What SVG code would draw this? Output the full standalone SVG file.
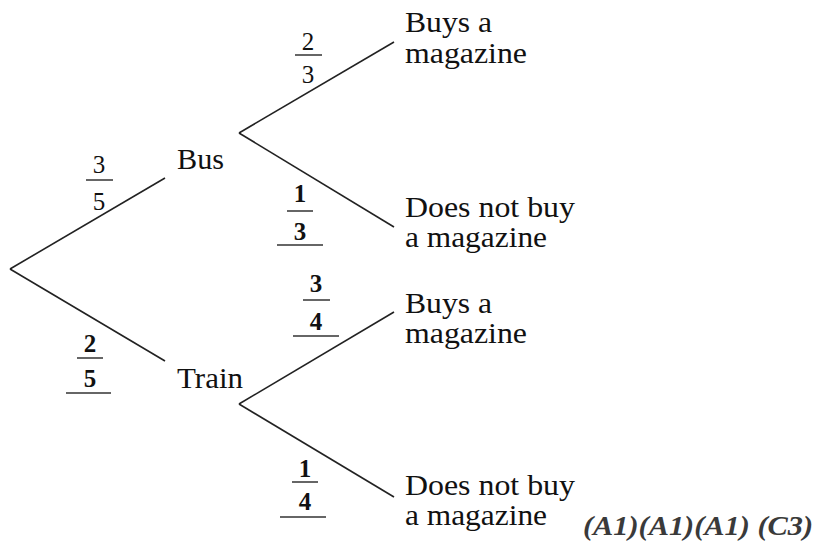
<svg xmlns="http://www.w3.org/2000/svg" width="819" height="544" viewBox="0 0 819 544">
<style>
.lbl{font-family:"Liberation Serif","Times New Roman",Times,"Nimbus Roman","DejaVu Serif",serif;font-size:30px;font-weight:normal;fill:#111}
.fr{font-family:"Liberation Serif","Times New Roman",Times,"Nimbus Roman","DejaVu Serif",serif;font-size:25px;fill:#111;text-anchor:middle}
.b{font-weight:bold}
.br{stroke:#222;stroke-width:1.6;fill:none}
.bar{stroke:#333;stroke-width:1.5}
.ul{stroke:#666;stroke-width:2}
.note{font-family:"Liberation Serif","Times New Roman",serif;font-size:28px;font-weight:bold;font-style:italic;fill:#3a3a3a}
</style>
<rect width="819" height="544" fill="#fff"/>
<g id="connectors">
<line class="br" x1="10" y1="269" x2="165" y2="178"/>
<line class="br" x1="10" y1="269" x2="165" y2="361"/>
<line class="br" x1="239" y1="133" x2="394" y2="42"/>
<line class="br" x1="239" y1="133" x2="394" y2="227"/>
<line class="br" x1="239" y1="404" x2="394" y2="312"/>
<line class="br" x1="239" y1="404" x2="394" y2="497"/>
</g>
<g id="p-bus">
<text class="fr" x="99" y="173">3</text>
<line class="bar" x1="86" y1="180" x2="113" y2="180"/>
<text class="fr" x="99" y="210">5</text>
</g>
<g id="p-train">
<text class="fr b" x="90" y="352">2</text>
<line class="bar" x1="77" y1="358" x2="103" y2="358"/>
<text class="fr b" x="90" y="387">5</text>
<line class="ul" x1="66" y1="393" x2="111" y2="393"/>
</g>
<g id="p-bus-buy">
<text class="fr" x="308" y="50">2</text>
<line class="bar" x1="295" y1="55" x2="322" y2="55"/>
<text class="fr" x="308" y="83">3</text>
</g>
<g id="p-bus-not">
<text class="fr b" x="300" y="202">1</text>
<line class="bar" x1="287" y1="211" x2="313" y2="211"/>
<text class="fr b" x="300" y="240">3</text>
<line class="ul" x1="277" y1="245" x2="323" y2="245"/>
</g>
<g id="p-train-buy">
<text class="fr b" x="316" y="292">3</text>
<line class="bar" x1="303" y1="300" x2="330" y2="300"/>
<text class="fr b" x="316" y="330">4</text>
<line class="ul" x1="293" y1="336" x2="339" y2="336"/>
</g>
<g id="p-train-not">
<text class="fr b" x="305" y="477">1</text>
<line class="bar" x1="292" y1="482" x2="318" y2="482"/>
<text class="fr b" x="305" y="510">4</text>
<line class="ul" x1="280" y1="517" x2="326" y2="517"/>
</g>
<g id="bus"><text class="lbl" x="177" y="169" textLength="47" lengthAdjust="spacingAndGlyphs">Bus</text></g>
<g id="train"><text class="lbl" x="177" y="388" textLength="66" lengthAdjust="spacingAndGlyphs">Train</text></g>
<g id="bus-buys"><text class="lbl" x="405" y="32" textLength="87" lengthAdjust="spacingAndGlyphs">Buys a</text><text class="lbl" x="405" y="63" textLength="122" lengthAdjust="spacingAndGlyphs">magazine</text></g>
<g id="bus-not"><text class="lbl" x="405" y="217" textLength="170" lengthAdjust="spacingAndGlyphs">Does not buy</text><text class="lbl" x="405" y="247" textLength="142" lengthAdjust="spacingAndGlyphs">a magazine</text></g>
<g id="train-buys"><text class="lbl" x="405" y="313" textLength="87" lengthAdjust="spacingAndGlyphs">Buys a</text><text class="lbl" x="405" y="343" textLength="122" lengthAdjust="spacingAndGlyphs">magazine</text></g>
<g id="train-not"><text class="lbl" x="405" y="495" textLength="170" lengthAdjust="spacingAndGlyphs">Does not buy</text><text class="lbl" x="405" y="525" textLength="142" lengthAdjust="spacingAndGlyphs">a magazine</text></g>
<text class="note" x="583" y="535" textLength="230" lengthAdjust="spacingAndGlyphs">(A1)(A1)(A1) (C3)</text>
</svg>
